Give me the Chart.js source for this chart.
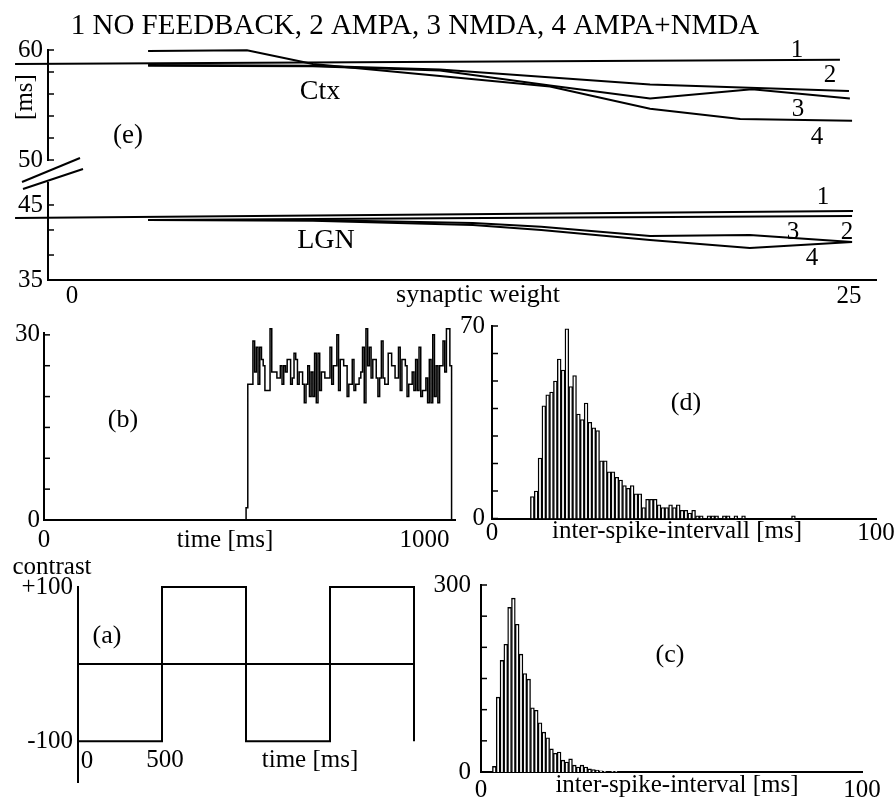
<!DOCTYPE html>
<html>
<head>
<meta charset="utf-8">
<script src="https://cdn.jsdelivr.net/npm/chart.js@4.4.0/dist/chart.umd.min.js"></script>
<style>
  html, body { margin: 0; padding: 0; background: #fff; }
  #page { position: relative; width: 896px; height: 802px; overflow: hidden; background: #fff; }
  canvas { position: absolute; }
</style>
</head>
<body>
<div id="page">
  <canvas id="cE1"></canvas>
  <canvas id="cE2"></canvas>
  <canvas id="cB"></canvas>
  <canvas id="cD"></canvas>
  <canvas id="cA"></canvas>
  <canvas id="cC"></canvas>
</div>
<script>
// ---- (e) latency [ms] against synaptic weight, Ctx (upper) and LGN (lower) ----
const ctxW1 = [-1.83, 24.71];
const ctxL1 = [58.73, 59.11];
const ctxW2 = [2.45, 7.75, 11.84, 18.6, 25.0];
const ctxL2 = [58.64, 58.56, 58.22, 56.86, 56.27];
const ctxW3 = [2.45, 7.75, 11.84, 15.38, 18.6, 21.88, 25.03];
const ctxL3 = [58.56, 58.52, 58.14, 56.78, 55.59, 56.44, 55.59];
const ctxW4 = [2.45, 5.63, 7.75, 11.84, 15.38, 18.6, 21.5, 25.1];
const ctxL4 = [59.92, 59.97, 58.73, 57.63, 56.69, 54.66, 53.73, 53.56];

const lgnW1 = [-1.83, 25.13];
const lgnL1 = [43.27, 44.2];
const lgnW2 = [2.45, 11.84, 25.1];
const lgnL2 = [43.0, 43.23, 43.53];
const lgnW3 = [2.45, 7.75, 12.9, 15.1, 18.6, 21.81, 25.1];
const lgnL3 = [43.0, 43.0, 42.6, 42.1, 40.87, 41.0, 40.07];
const lgnW4 = [2.45, 7.75, 12.9, 15.1, 18.6, 21.81, 25.1];
const lgnL4 = [43.0, 42.9, 42.33, 41.67, 40.33, 39.27, 40.07];

const ctxTicks = [50, 52, 54, 56, 58, 60];
const ctxTickLabels = ['50', '', '', '', '', '60'];
const lgnTicks = [35, 38.33, 41.67, 45];
const lgnTickLabels = ['35', '', '', '45'];
const wTicks = [0, 25];
const wTickLabels = ['0', '25'];

// ---- (b) spike count histogram over time ----
const psthStart = 531;   // ms, first bin
const psthBin = 4.5;     // ms per bin
const psthCounts = [2, 22, 22, 22, 29, 24, 28, 22, 28, 26, 25, 21, 21, 21, 31, 24, 24, 24, 23, 23,
  25, 22, 25, 24, 26, 26, 22, 23, 27, 26, 22, 24, 24, 22, 19, 22, 25, 20, 24, 20,
  27, 19, 27, 21, 24, 24, 23, 23, 23, 28, 22, 25, 25, 30, 21, 26, 26, 25, 25, 20,
  22, 22, 26, 21, 22, 22, 23, 24, 28, 19, 31, 25, 28, 23, 26, 26, 23, 20, 23, 29,
  23, 22, 22, 27, 27, 25, 25, 23, 23, 28, 21, 26, 26, 25, 20, 22, 22, 24, 21, 26,
  21, 28, 20, 21, 21, 23, 19, 26, 19, 30, 20, 25, 19, 25, 25, 29, 24, 31, 31, 25];
const psthTicks = [0, 5, 10, 15, 20, 25, 30];
const psthTickLabels = ['0', '', '', '', '', '', '30'];
const timeTicks = [0, 1000];
const timeTickLabels = ['0', '1000'];

// ---- (d) inter-spike-interval histogram, 1 ms bins ----
const isiDStart = 10;
const isiDCounts = [8, 10, 22, 41, 45, 46, 50, 58, 54, 69, 48, 52, 38, 36, 42, 35, 33, 32,
  21, 21, 17, 17, 15, 14, 12, 11, 12, 9, 9, 4, 7, 7, 7, 5, 4, 4, 5, 4, 5, 3, 3, 2, 3,
  1, 1, 0, 1, 1, 1, 0, 1, 1, 0, 1, 0, 1,
  0, 0, 0, 0, 0, 0, 0, 0, 0, 0, 0, 0, 1];
const isiDTicks = [0, 10, 20, 30, 40, 50, 60, 70];
const isiDTickLabels = ['0', '', '', '', '', '', '', '70'];

// ---- (c) inter-spike-interval histogram, 1 ms bins ----
const isiCStart = 3;
const isiCCounts = [9, 120, 179, 205, 264, 279, 237, 189, 158, 149, 103, 99, 79, 64, 55, 37,
  30, 32, 19, 16, 21, 11, 8, 11, 8, 5, 4, 3, 2, 1, 0, 1, 1];
const isiCTicks = [0, 50, 100, 150, 200, 250, 300];
const isiCTickLabels = ['0', '', '', '', '', '', '300'];
const isiTicks = [0, 100];
const isiTickLabels = ['0', '100'];

// ---- (a) stimulus contrast ----
const stimT = [0, 500, 1000, 1500, 2000];
const stimC = [-100, 100, -100, 100, -100];
const zeroT = [0, 2000];
const zeroC = [0, 0];
const contrastTicks = [-100, 100];
const contrastTickLabels = ['-100', '+100'];

Chart.defaults.font.family = "'Liberation Serif', 'Times New Roman', serif";
Chart.defaults.color = '#000';
Chart.defaults.animation = false;
Chart.defaults.responsive = false;
Chart.defaults.plugins.legend.display = false;
Chart.defaults.plugins.tooltip.enabled = false;

const SERIF = "'Liberation Serif', serif";

function pts(xs, ys) { return xs.map((x, i) => ({x: x, y: ys[i]})); }

function box(id, left, top, w, h) {
  const c = document.getElementById(id);
  c.width = w; c.height = h;
  c.style.left = left + 'px'; c.style.top = top + 'px';
  c.style.width = w + 'px'; c.style.height = h + 'px';
  return {c: c, left: left, top: top};
}

function line(xs, ys, extra) {
  return Object.assign({
    data: pts(xs, ys), borderColor: '#000', borderWidth: 2, pointRadius: 0,
    tension: 0, fill: false, clip: false
  }, extra || {});
}

function bars(start, counts) {
  return {
    data: counts.map((v, i) => ({x: start + i + 0.5, y: v})),
    backgroundColor: '#fff', borderColor: '#000', borderWidth: 1.4,
    barPercentage: 1, categoryPercentage: 1
  };
}

function yAxis(w, min, max, ticks, labels, pad) {
  return {
    type: 'linear', min: min, max: max,
    afterFit: s => { s.width = w; },
    afterBuildTicks: s => { s.ticks = ticks.map(v => ({value: v})); },
    grid: {display: false, drawTicks: false},
    border: {display: true, color: '#000', width: 2},
    ticks: {autoSkip: false, padding: pad, font: {size: 25}, callback: (v, i) => labels[i]}
  };
}

function xAxis(h, min, max, ticks, labels, pad) {
  return {
    type: 'linear', min: min, max: max, offset: false,
    afterFit: s => { s.height = h; },
    afterBuildTicks: s => { s.ticks = ticks.map(v => ({value: v})); },
    grid: {display: false, drawTicks: false},
    border: {display: true, color: '#000', width: 2},
    ticks: {autoSkip: false, maxRotation: 0, padding: pad, font: {size: 25}, callback: (v, i) => labels[i]}
  };
}

// labels placed in page coordinates, plus the axis break strokes
function notes(b, items) {
  return {
    id: 'notes',
    afterDraw(chart) {
      const g = chart.ctx;
      g.save();
      g.fillStyle = '#000';
      g.strokeStyle = '#000';
      items.forEach(it => {
        if (it.line) {
          g.lineWidth = 2;
          g.beginPath();
          g.moveTo(it.line[0] - b.left, it.line[1] - b.top);
          g.lineTo(it.line[2] - b.left, it.line[3] - b.top);
          g.stroke();
          return;
        }
        g.font = (it.size || 25) + 'px ' + SERIF;
        g.textAlign = 'center';
        g.textBaseline = 'middle';
        g.save();
        g.translate(it.x - b.left, it.y - b.top);
        if (it.rot) g.rotate(it.rot);
        g.fillText(it.t, 0, 0);
        g.restore();
      });
      g.restore();
    }
  };
}

// short tick marks pointing into the plot from the y axis
const inTicks = {
  id: 'inTicks',
  afterDraw(chart) {
    const y = chart.scales.y, g = chart.ctx, x0 = chart.chartArea.left;
    g.save();
    g.strokeStyle = '#000';
    g.lineWidth = 1.5;
    y.ticks.forEach(t => {
      const p = y.getPixelForValue(t.value);
      g.beginPath(); g.moveTo(x0, p); g.lineTo(x0 + 6, p); g.stroke();
    });
    g.restore();
  }
};

// (e) upper part: Ctx
const bE1 = box('cE1', 0, 0, 896, 180);
new Chart(bE1.c, {
  type: 'line',
  data: {datasets: [line(ctxW1, ctxL1), line(ctxW2, ctxL2), line(ctxW3, ctxL3), line(ctxW4, ctxL4)]},
  options: {
    layout: {padding: {left: 0, top: 50, right: 20, bottom: 12}},
    scales: {
      x: {type: 'linear', display: false, min: -0.77, max: 25.87},
      y: yAxis(48, 50, 60, ctxTicks, ctxTickLabels, 5)
    }
  },
  plugins: [inTicks, notes(bE1, [
    {t: '1 NO FEEDBACK, 2 AMPA, 3 NMDA, 4 AMPA+NMDA', x: 415, y: 26, size: 29},
    {t: '[ms]', x: 25, y: 97, rot: -Math.PI / 2},
    {t: '(e)', x: 128, y: 136, size: 27},
    {t: 'Ctx', x: 320, y: 92, size: 28},
    {t: '1', x: 797, y: 50}, {t: '2', x: 830, y: 75},
    {t: '3', x: 798, y: 109}, {t: '4', x: 817, y: 137}
  ])]
});

// (e) lower part: LGN
const bE2 = box('cE2', 0, 150, 896, 170);
new Chart(bE2.c, {
  type: 'line',
  data: {datasets: [line(lgnW1, lgnL1), line(lgnW2, lgnL2), line(lgnW3, lgnL3), line(lgnW4, lgnL4)]},
  options: {
    layout: {padding: {left: 0, top: 33, right: 20, bottom: 0}},
    scales: {
      x: xAxis(40, -0.77, 25.87, wTicks, wTickLabels, 1),
      y: yAxis(48, 35, 47.93, lgnTicks, lgnTickLabels, 5)
    }
  },
  plugins: [inTicks, notes(bE2, [
    {line: [22, 182, 80, 158]}, {line: [23, 189, 83, 169]},
    {t: 'LGN', x: 326, y: 241, size: 28},
    {t: 'synaptic weight', x: 478, y: 295, size: 26},
    {t: '1', x: 823, y: 197}, {t: '3', x: 793, y: 232},
    {t: '2', x: 847, y: 232}, {t: '4', x: 812, y: 258}
  ])]
});

// (b) spike count over time
const psthPts = [{x: 0, y: 0}];
psthCounts.forEach((v, i) => psthPts.push({x: psthStart + i * psthBin, y: v}));
psthPts.push({x: psthStart + psthCounts.length * psthBin, y: 0});
const bB = box('cB', 0, 310, 480, 250);
new Chart(bB.c, {
  type: 'line',
  data: {datasets: [{data: psthPts, stepped: 'before', borderColor: '#000', borderWidth: 1.5,
    pointRadius: 0, fill: false, clip: false}]},
  options: {
    layout: {padding: {left: 0, top: 23, right: 25, bottom: 0}},
    scales: {
      x: xAxis(40, 0, 1080, timeTicks, timeTickLabels, 5),
      y: yAxis(44, 0, 30.3, psthTicks, psthTickLabels, 4)
    }
  },
  plugins: [inTicks, notes(bB, [
    {t: '(b)', x: 123, y: 420, size: 26},
    {t: 'time [ms]', x: 225, y: 540}
  ])]
});

// (d) inter-spike-interval histogram
const bD = box('cD', 445, 300, 451, 260);
new Chart(bD.c, {
  type: 'bar',
  data: {datasets: [bars(isiDStart, isiDCounts)]},
  options: {
    layout: {padding: {left: 0, top: 26, right: 20, bottom: 0}},
    scales: {
      x: xAxis(41.5, 0, 100, isiTicks, isiTickLabels, 0),
      y: yAxis(47, 0, 70, isiDTicks, isiDTickLabels, 7)
    }
  },
  plugins: [inTicks, notes(bD, [
    {t: '(d)', x: 686, y: 403, size: 26},
    {t: 'inter-spike-intervall [ms]', x: 677, y: 531}
  ])]
});

// (a) stimulus
const bA = box('cA', 0, 560, 440, 242);
new Chart(bA.c, {
  type: 'line',
  data: {datasets: [line(stimT, stimC, {stepped: 'before'}), line(zeroT, zeroC)]},
  options: {
    layout: {padding: {left: 0, top: 27, right: 26, bottom: 19}},
    scales: {
      x: {type: 'linear', display: false, min: 0, max: 2000},
      y: yAxis(78, -153, 100, contrastTicks, contrastTickLabels, 5)
    }
  },
  plugins: [notes(bA, [
    {t: 'contrast', x: 52, y: 567},
    {t: '(a)', x: 107, y: 636, size: 26},
    {t: '0', x: 87, y: 761},
    {t: '500', x: 165, y: 760},
    {t: 'time [ms]', x: 310, y: 760}
  ])]
});

// (c) inter-spike-interval histogram
const bC = box('cC', 430, 560, 466, 242);
new Chart(bC.c, {
  type: 'bar',
  data: {datasets: [bars(isiCStart, isiCCounts)]},
  options: {
    layout: {padding: {left: 0, top: 20, right: 34, bottom: 0}},
    scales: {
      x: xAxis(30, 0, 100, isiTicks, isiTickLabels, 3),
      y: yAxis(51, 0, 300, isiCTicks, isiCTickLabels, 10)
    }
  },
  plugins: [inTicks, notes(bC, [
    {t: '(c)', x: 670, y: 655, size: 26},
    {t: 'inter-spike-interval [ms]', x: 677, y: 785}
  ])]
});
</script>
</body>
</html>
